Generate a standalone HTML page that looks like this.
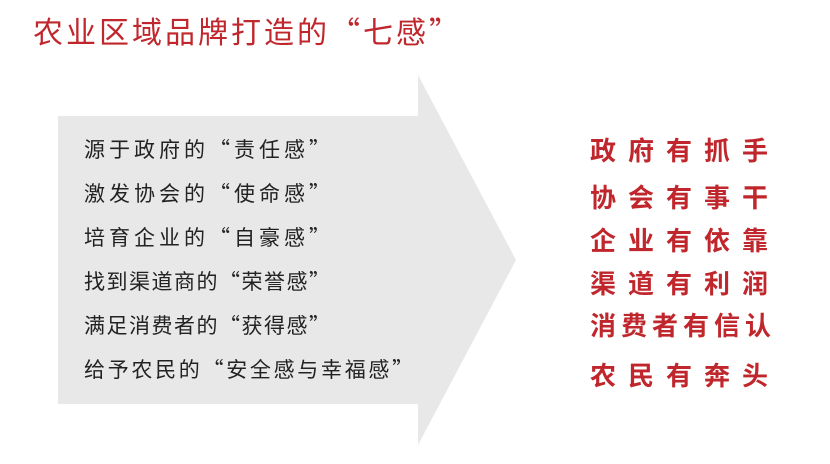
<!DOCTYPE html>
<html><head><meta charset="utf-8"><style>
body{margin:0;width:830px;height:464px;background:#fff;position:relative;overflow:hidden;font-family:"Noto Sans CJK SC",sans-serif}
.t{position:absolute;left:33px;top:8px;font-size:30px;color:#c0272d;white-space:nowrap;letter-spacing:3px}
.l{position:absolute;left:84px;font-size:21px;color:#222;white-space:nowrap;line-height:24px}
.r{position:absolute;left:590px;font-size:26px;font-weight:bold;color:#c0272d;white-space:nowrap;line-height:30px}
</style></head><body>
<svg width="830" height="464" style="position:absolute;left:0;top:0">
<polygon points="58,116 418,116 418,75 516,260 418,445 418,404 58,404" fill="#e8e8e8"/>
</svg>
<div class="t">农业区域品牌打造的“七感”</div>
<div class="l" style="top:137px;letter-spacing:4px">源于政府的“责任感”</div>
<div class="l" style="top:181px;letter-spacing:4px">激发协会的“使命感”</div>
<div class="l" style="top:225px;letter-spacing:4px">培育企业的“自豪感”</div>
<div class="l" style="top:269px;letter-spacing:1.5px">找到渠道商的“荣誉感”</div>
<div class="l" style="top:313px;letter-spacing:1.5px">满足消费者的“获得感”</div>
<div class="l" style="top:357px;letter-spacing:2.7px">给予农民的“安全感与幸福感”</div>
<div class="r" style="top:135px;letter-spacing:12px">政府有抓手</div>
<div class="r" style="top:182px;letter-spacing:12px">协会有事干</div>
<div class="r" style="top:225px;letter-spacing:12px">企业有依靠</div>
<div class="r" style="top:268px;letter-spacing:12px">渠道有利润</div>
<div class="r" style="top:310px;letter-spacing:5px">消费者有信认</div>
<div class="r" style="top:360px;letter-spacing:12px">农民有奔头</div>
</body></html>
